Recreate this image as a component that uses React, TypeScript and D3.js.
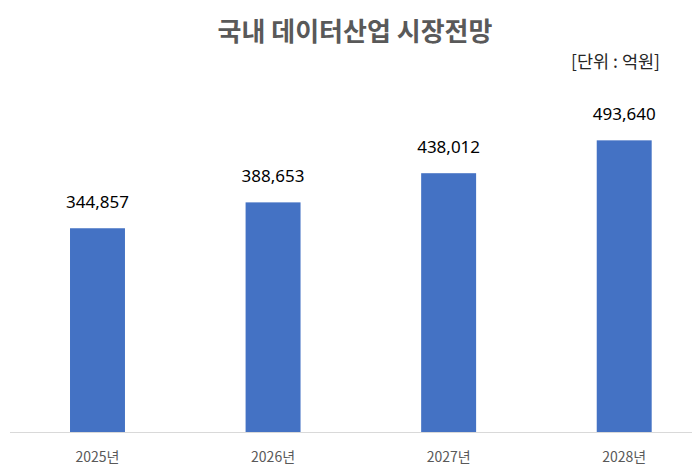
import React, { useEffect, useRef } from 'react';
import * as d3 from 'd3';

const years = ['2025년', '2026년', '2027년', '2028년'];
const values = [344857, 388653, 438012, 493640];
const yMax = 600000;

const width = 692;
const height = 467;
const korean = '"Noto Sans CJK KR", "Noto Sans", sans-serif';

const App: React.FC = () => {
    const svgRef = useRef<SVGSVGElement>(null);

    useEffect(() => {
        if (!svgRef.current) return;
        const svg = d3.select(svgRef.current);
        svg.selectAll('*').remove();

        const x = d3.scaleBand<string>()
            .domain(years)
            .range([9.7, 712])
            .paddingInner(0.687)
            .paddingOuter(0.3435);

        const y = d3.scaleLinear()
            .domain([0, yMax])
            .range([432, 77.5]);

        const data = years.map((year, i) => ({ year, value: values[i] }));

        // bars
        svg.append('g')
            .selectAll('rect')
            .data(data)
            .enter()
            .append('rect')
            .attr('x', d => x(d.year)!)
            .attr('y', d => y(d.value))
            .attr('width', x.bandwidth())
            .attr('height', d => y(0) - y(d.value))
            .attr('fill', '#4472C4');

        // baseline
        svg.append('line')
            .attr('x1', 10)
            .attr('x2', width)
            .attr('y1', y(0) + 0.5)
            .attr('y2', y(0) + 0.5)
            .attr('stroke', '#D9D9D9')
            .attr('stroke-width', 1);

        // value labels
        svg.append('g')
            .selectAll('text')
            .data(data)
            .enter()
            .append('text')
            .attr('x', d => x(d.year)! + x.bandwidth() / 2)
            .attr('y', d => y(d.value) - 20)
            .attr('text-anchor', 'middle')
            .attr('font-family', '"Noto Sans", sans-serif')
            .attr('font-size', '17px')
            .attr('fill', '#000')
            .text(d => d3.format(',')(d.value));

        // category labels
        svg.append('g')
            .selectAll('text')
            .data(years)
            .enter()
            .append('text')
            .attr('x', d => x(d)! + x.bandwidth() / 2)
            .attr('y', 462)
            .attr('text-anchor', 'middle')
            .attr('font-family', korean)
            .attr('font-size', '14px')
            .attr('fill', '#595959')
            .text(d => d);

        // title
        svg.append('text')
            .attr('x', 355)
            .attr('y', 41)
            .attr('text-anchor', 'middle')
            .attr('font-family', korean)
            .attr('font-weight', 'bold')
            .attr('font-size', '26px')
            .attr('fill', '#595959')
            .text('국내 데이터산업 시장전망');

        // unit
        svg.append('text')
            .attr('x', 660)
            .attr('y', 68)
            .attr('text-anchor', 'end')
            .attr('font-family', korean)
            .attr('font-size', '17.5px')
            .attr('fill', '#262626')
            .text('[단위 : 억원]');
    }, []);

    return (
        <svg
            ref={svgRef}
            width={width}
            height={height}
            style={{ position: 'absolute', left: 0, top: 0, background: '#fff' }}
        />
    );
};

export default App;
